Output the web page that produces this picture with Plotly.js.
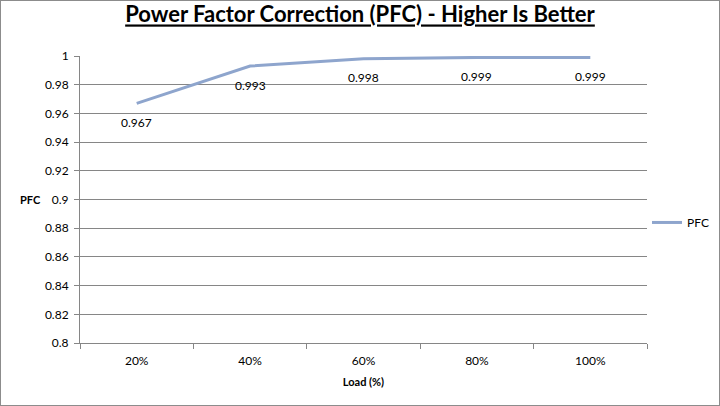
<!DOCTYPE html>
<html>
<head>
<meta charset="utf-8">
<script src="https://cdn.plot.ly/plotly-3.0.1.min.js"></script>
<style>
html,body{margin:0;padding:0;background:#fff;}
#wrap{width:720px;height:406px;box-sizing:border-box;border:1px solid #8c8c8c;}
#chart{width:718px;height:404px;}
</style>
</head>
<body>
<div id="wrap"><div id="chart"></div></div>
<script>
const categories = ["20%", "40%", "60%", "80%", "100%"];
const pfcValues = [0.967, 0.993, 0.998, 0.999, 0.999];
const pfcLabels = ["0.967", "0.993", "0.998", "0.999", "0.999"];
const yTickVals = [0.8, 0.82, 0.84, 0.86, 0.88, 0.9, 0.92, 0.94, 0.96, 0.98, 1];
const yTickText = ["0.8", "0.82", "0.84", "0.86", "0.88", "0.9", "0.92", "0.94", "0.96", "0.98", "1"];

const FONT = "Lato, 'Open Sans', sans-serif";

const trace = {
  type: "scatter",
  mode: "lines",
  name: "PFC",
  x: categories,
  y: pfcValues,
  line: {color: "#8ea5cd", width: 3},
  cliponaxis: false
};

const labelAnnotations = categories.map((c, i) => ({
  x: c, y: pfcValues[i], xref: "x", yref: "y",
  text: pfcLabels[i],
  showarrow: false,
  xanchor: "center", yanchor: "middle",
  yshift: -19,
  font: {family: FONT, size: 12, color: "#000"}
}));

const layout = {
  width: 718,
  height: 404,
  margin: {l: 79, r: 72, t: 55, b: 62, autoexpand: false},
  paper_bgcolor: "#fff",
  plot_bgcolor: "#fff",
  font: {family: FONT, size: 12, color: "#000"},
  title: {
    text: "<b><u>Power Factor Correction (PFC) - Higher Is Better</u></b>",
    font: {family: FONT, size: 22, color: "#000"},
    x: 0.5, xref: "container", xanchor: "center",
    y: 0.985, yref: "container", yanchor: "top"
  },
  xaxis: {
    type: "category",
    range: [-0.5, 4.5],
    tickson: "boundaries",
    ticks: "outside",
    ticklen: 5,
    tickcolor: "#868686",
    ticklabelstandoff: 7,
    showline: true,
    linecolor: "#868686",
    linewidth: 1,
    showgrid: false,
    zeroline: false,
    tickfont: {family: FONT, size: 12, color: "#000"},
    title: {text: "<b>Load (%)</b>", font: {family: FONT, size: 11, color: "#000"}, standoff: 10}
  },
  yaxis: {
    range: [0.8, 1],
    tickvals: yTickVals,
    ticktext: yTickText,
    ticks: "outside",
    ticklen: 5,
    tickcolor: "#868686",
    ticklabelstandoff: 3,
    showline: true,
    linecolor: "#868686",
    linewidth: 1,
    showgrid: true,
    gridcolor: "#868686",
    gridwidth: 1,
    zeroline: false,
    tickfont: {family: FONT, size: 12, color: "#000"}
  },
  showlegend: true,
  legend: {
    x: 1.0, xanchor: "left", y: 0.42, yanchor: "middle",
    font: {family: FONT, size: 12, color: "#000"},
    bgcolor: "rgba(0,0,0,0)",
    itemwidth: 30
  },
  annotations: [{
    text: "<b>PFC</b>",
    xref: "paper", yref: "paper",
    x: -0.088, y: 0.5, xanchor: "center", yanchor: "middle",
    showarrow: false,
    font: {family: FONT, size: 11, color: "#000"}
  }].concat(labelAnnotations)
};

Plotly.newPlot("chart", [trace], layout, {displayModeBar: false, staticPlot: true});
</script>
</body>
</html>
